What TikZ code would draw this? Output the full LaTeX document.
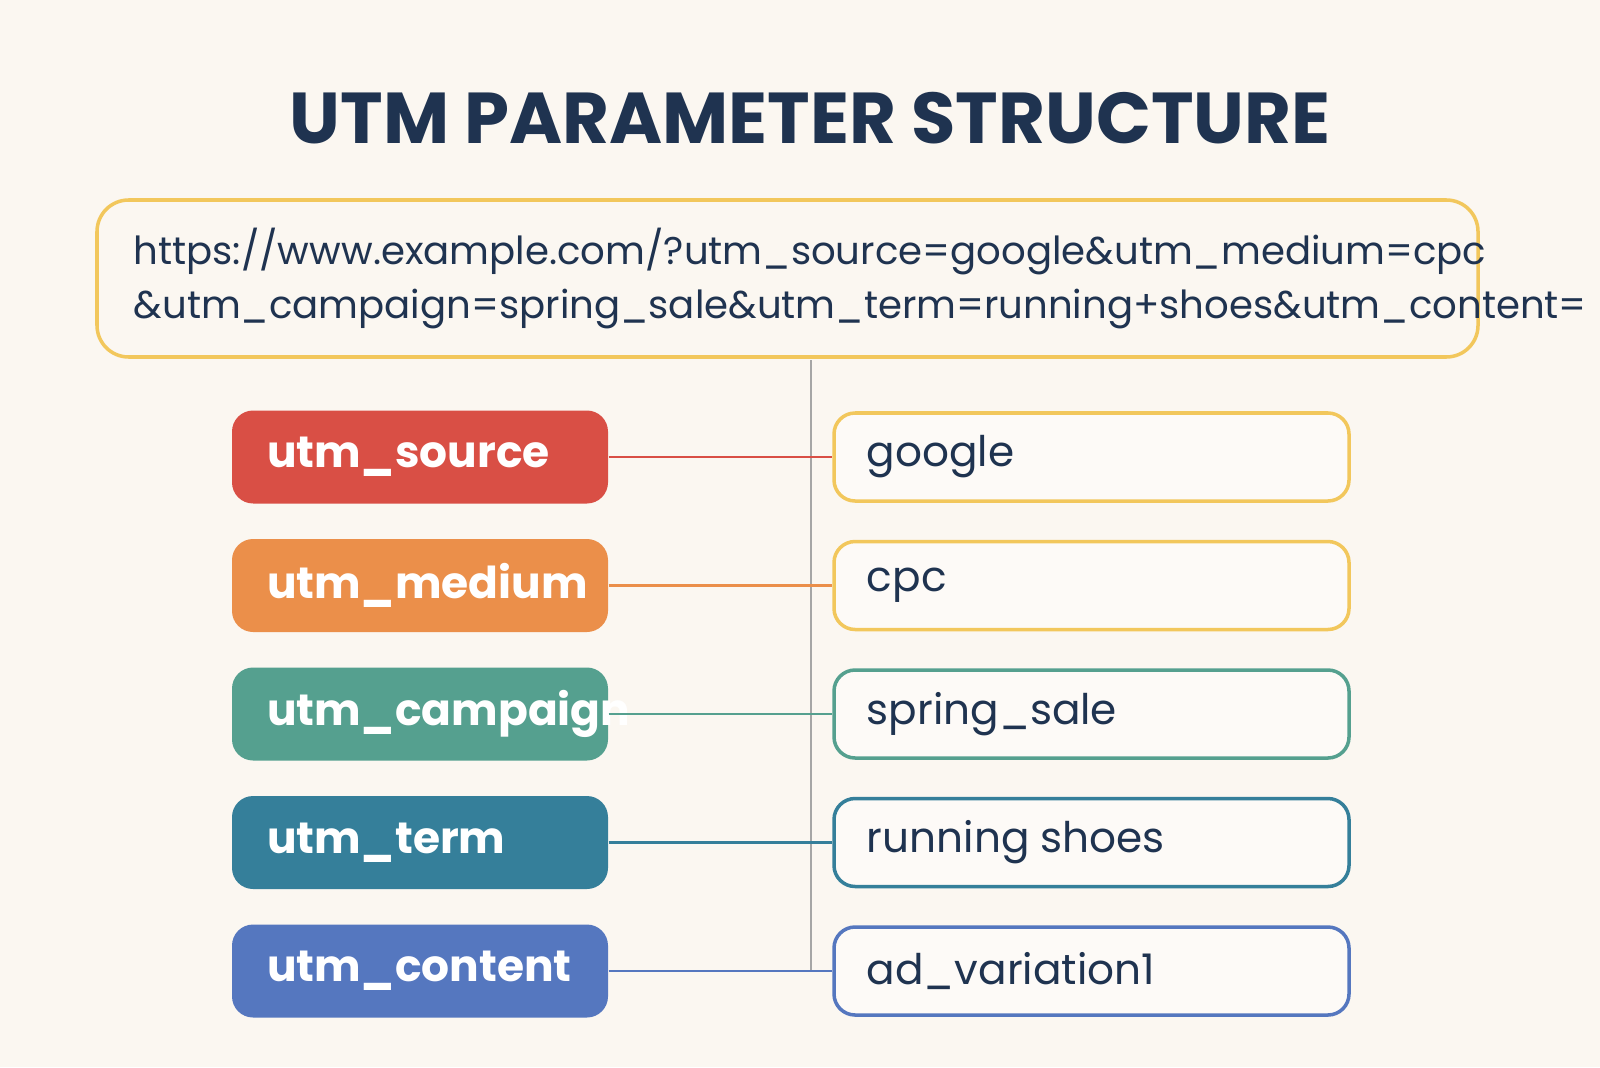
\documentclass[tikz,border=0pt]{standalone}
\usepackage{fontspec}
\setmainfont{Poppins}
\usetikzlibrary{calc}
\definecolor{bgcol}{HTML}{FBF7F1}
\definecolor{navy}{HTML}{1F3350}
\definecolor{ylw}{HTML}{F2C75C}
\definecolor{redc}{HTML}{D94F45}
\definecolor{orac}{HTML}{EB8F4A}
\definecolor{teac}{HTML}{55A08F}
\definecolor{bluc}{HTML}{357F9A}
\definecolor{indc}{HTML}{5577BF}
\tikzset{
  param/.style={fill=#1, rounded corners=6pt, minimum width=3.76cm, minimum height=0.93cm, inner sep=0pt},
  ptext/.style={anchor=west, text=white, font=\fontsize{12.5}{15}\selectfont\bfseries, inner sep=0pt},
  val/.style={draw=#1, line width=1pt, fill=white!40!bgcol, rounded corners=6pt,
    minimum width=5.15cm, minimum height=0.88cm},
  vtext/.style={anchor=west, text=navy, font=\fontsize{12}{14}\selectfont, inner sep=0pt},
  link/.style={draw=#1, line width=0.8pt}
}
\begin{document}
\begin{tikzpicture}
\fill[bgcol](0,0) rectangle (16,10.67);
\useasboundingbox (0,0) rectangle (16,10.67);
\node[text=navy, font=\fontsize{20.5}{24}\selectfont\bfseries](title) at (8.1,9.49){UTM PARAMETER STRUCTURE};
\node[draw=ylw, line width=1pt, rounded corners=9pt, minimum width=13.81cm, minimum height=1.57cm](url) at (7.875,7.885){};
\node[anchor=west, text=navy, font=\fontsize{11}{15.5}\selectfont, align=left, inner sep=0pt](urltext) at (1.33,7.885)
  {https://www.example.com/?utm\_source=google\&utm\_medium=cpc\\\&utm\_campaign=spring\_sale\&utm\_term=running+shoes\&utm\_content=};
\coordinate (vtop) at (8.11,7.07);
\coordinate (vbot) at (8.11,0.97);
\draw[gray!70, line width=0.7pt](vtop)--(vbot);
\foreach \i/\p/\v/\c/\bc in {1/utm\_source/google/redc/ylw, 2/utm\_medium/cpc/orac/ylw,
  3/utm\_campaign/spring\_sale/teac/teac, 4/utm\_term/running shoes/bluc/bluc,
  5/utm\_content/ad\_variation1/indc/indc}{
  \node[param=\c](p\i) at (4.2,{10.67-(4.57+1.285*(\i-1))}){};
  \node[ptext] at ($(p\i.west)+(0.35,0)$){\p};
  \node[val=\bc](v\i) at (10.915,{10.67-(4.57+1.285*(\i-1))}){};
  \node[vtext] at ($(v\i.west)+(0.34,0)$){\v};
  \draw[link=\c](p\i.east)--(v\i.west);
}
\end{tikzpicture}
\end{document}
